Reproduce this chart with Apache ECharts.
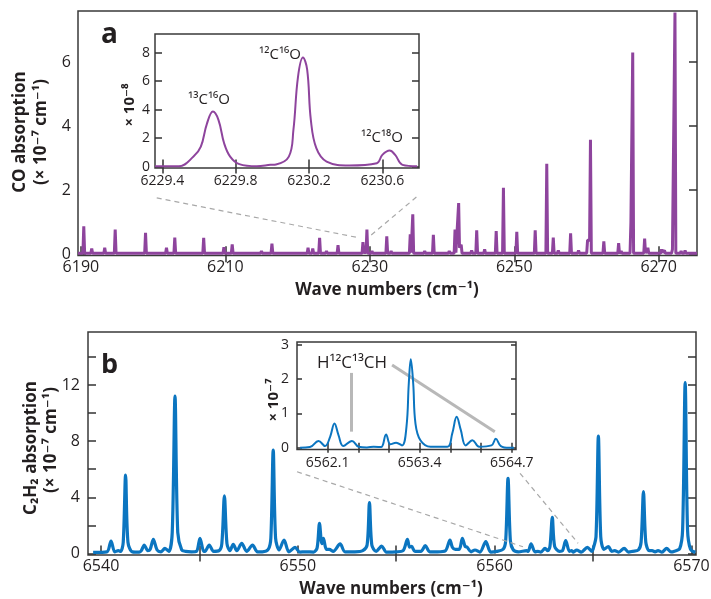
<!DOCTYPE html>
<html><head><meta charset="utf-8">
<script src="https://cdn.jsdelivr.net/npm/echarts@6/dist/echarts.min.js"></script>
<style>html,body{margin:0;padding:0;background:#fff}#c{width:711px;height:599px}</style>
</head><body><div id="c"></div>
<script>
// ---------- DATA ----------
// Panel a main: CO spectrum, wave number (cm^-1) vs absorption (x 10^-7 cm^-1)
const coMain = [
[6189.6,0.03],
[6190.28,0.03],[6190.4,0.87],[6190.52,0.03],
[6191.38,0.03],[6191.5,0.18],[6191.62,0.03],
[6192.18,0.03],[6192.3,0.08],[6192.42,0.03],
[6193.18,0.03],[6193.3,0.2],[6193.42,0.03],
[6193.88,0.03],[6194.0,0.07],[6194.12,0.03],
[6194.63,0.03],[6194.75,0.77],[6194.87,0.03],
[6195.38,0.03],[6195.5,0.06],[6195.62,0.03],
[6196.18,0.03],[6196.3,0.08],[6196.42,0.03],
[6197.08,0.03],[6197.2,0.06],[6197.32,0.03],
[6198.83,0.03],[6198.95,0.67],[6199.07,0.03],
[6199.88,0.03],[6200.0,0.06],[6200.12,0.03],
[6200.88,0.03],[6201.0,0.08],[6201.12,0.03],
[6201.73,0.03],[6201.85,0.2],[6201.97,0.03],
[6202.88,0.03],[6203.0,0.52],[6203.12,0.03],
[6203.88,0.03],[6204.0,0.07],[6204.12,0.03],
[6204.88,0.03],[6205.0,0.06],[6205.12,0.03],
[6205.88,0.03],[6206.0,0.07],[6206.12,0.03],
[6206.88,0.03],[6207.0,0.51],[6207.12,0.03],
[6207.98,0.03],[6208.1,0.08],[6208.22,0.03],
[6209.68,0.03],[6209.8,0.22],[6209.92,0.03],
[6210.83,0.03],[6210.95,0.31],[6211.07,0.03],
[6211.88,0.03],[6212.0,0.07],[6212.12,0.03],
[6212.88,0.03],[6213.0,0.08],[6213.12,0.03],
[6213.88,0.03],[6214.0,0.06],[6214.12,0.03],
[6214.88,0.03],[6215.0,0.1],[6215.12,0.03],
[6216.33,0.03],[6216.45,0.33],[6216.57,0.03],
[6217.38,0.03],[6217.5,0.07],[6217.62,0.03],
[6218.38,0.03],[6218.5,0.07],[6218.62,0.03],
[6219.38,0.03],[6219.5,0.06],[6219.62,0.03],
[6220.48,0.03],[6220.6,0.08],[6220.72,0.03],
[6221.33,0.03],[6221.45,0.2],[6221.57,0.03],
[6221.98,0.03],[6222.1,0.18],[6222.22,0.03],
[6222.93,0.03],[6223.05,0.51],[6223.17,0.03],
[6223.88,0.03],[6224.0,0.1],[6224.12,0.03],
[6225.48,0.03],[6225.6,0.28],[6225.72,0.03],
[6226.28,0.03],[6226.4,0.06],[6226.52,0.03],
[6226.98,0.03],[6227.1,0.08],[6227.22,0.03],
[6227.88,0.03],[6228.0,0.06],[6228.12,0.03],
[6228.93,0.03],[6229.05,0.38],[6229.17,0.05],
[6229.48,0.05],[6229.6,0.77],[6229.72,0.03],
[6230.18,0.03],[6230.3,0.1],[6230.42,0.03],
[6231.08,0.03],[6231.2,0.08],[6231.32,0.03],
[6232.23,0.03],[6232.35,0.56],[6232.47,0.03],
[6232.83,0.03],[6232.95,0.1],[6233.07,0.03],
[6233.88,0.03],[6234.0,0.06],[6234.12,0.03],
[6235.48,0.03],[6235.6,0.62],[6235.72,0.05],
[6235.83,0.05],[6235.95,1.25],[6236.07,0.03],
[6237.48,0.03],[6237.6,0.1],[6237.72,0.03],
[6238.68,0.03],[6238.8,0.61],[6238.92,0.03],
[6239.88,0.03],[6240.0,0.07],[6240.12,0.03],
[6240.88,0.03],[6241.0,0.1],[6241.12,0.03],
[6241.68,0.03],[6241.8,0.77],[6241.92,0.05],
[6242.18,0.05],[6242.3,1.6],[6242.42,0.2],[6242.65,0.3],[6242.77,0.03],
[6243.98,0.03],[6244.1,0.12],[6244.22,0.03],
[6244.68,0.03],[6244.8,0.75],[6244.92,0.03],
[6245.78,0.03],[6245.9,0.15],[6246.02,0.03],
[6246.68,0.03],[6246.8,0.07],[6246.92,0.03],
[6247.38,0.03],[6247.5,0.72],[6247.62,0.03],
[6248.38,0.03],[6248.5,2.08],[6248.62,0.03],
[6249.38,0.03],[6249.5,0.08],[6249.62,0.03],
[6250.23,0.03],[6250.35,0.7],[6250.47,0.03],
[6251.18,0.03],[6251.3,0.08],[6251.42,0.03],
[6251.98,0.03],[6252.1,0.06],[6252.22,0.03],
[6252.78,0.03],[6252.9,0.75],[6253.02,0.03],
[6253.58,0.03],[6253.7,0.08],[6253.82,0.03],
[6254.38,0.03],[6254.5,2.83],[6254.62,0.03],
[6255.28,0.03],[6255.4,0.52],[6255.52,0.03],
[6255.98,0.03],[6256.1,0.12],[6256.22,0.03],
[6256.88,0.03],[6257.0,0.07],[6257.12,0.03],
[6257.68,0.03],[6257.8,0.65],[6257.92,0.03],
[6258.78,0.03],[6258.9,0.12],[6259.02,0.03],
[6259.38,0.03],[6259.5,0.07],[6259.62,0.03],
[6260.03,0.03],[6260.15,0.44],[6260.3,0.44],[6260.43,0.44],[6260.55,3.58],[6260.67,0.03],
[6261.28,0.03],[6261.4,0.08],[6261.52,0.03],
[6262.28,0.03],[6262.4,0.4],[6262.52,0.03],
[6263.18,0.03],[6263.3,0.07],[6263.42,0.03],
[6264.33,0.03],[6264.45,0.35],[6264.57,0.03],
[6264.68,0.03],[6264.8,0.1],[6264.92,0.03],
[6265.38,0.03],[6265.5,0.07],[6265.62,0.03],
[6266.03,0.03],[6266.15,1.0],[6266.28,1.0],[6266.4,6.3],[6266.52,0.03],
[6267.08,0.03],[6267.2,0.08],[6267.32,0.03],
[6267.93,0.03],[6268.05,0.49],[6268.17,0.03],
[6268.38,0.03],[6268.5,0.2],[6268.62,0.03],
[6269.28,0.03],[6269.4,0.07],[6269.52,0.03],
[6270.28,0.03],[6270.4,0.15],[6270.52,0.05],[6270.8,0.12],[6270.92,0.03],
[6271.78,0.03],[6271.9,0.15],[6272.0,0.15],[6272.25,7.55],[6272.37,0.03],
[6272.98,0.03],[6273.1,0.1],[6273.22,0.03],
[6273.53,0.03],[6273.65,0.12],[6273.77,0.03],
[6274.38,0.03],[6274.5,0.06],[6274.62,0.03],
[6275.3,0.03]
];
// Panel a inset (x 10^-8)
const coInset = [
[6229.36,0.02],[6229.49,0.02],[6229.57,0.7],[6229.61,1.4],[6229.643,3.0],[6229.676,3.86],
[6229.706,3.28],[6229.737,1.64],[6229.77,0.7],[6229.82,0.17],[6229.915,0.02],[6229.99,0.12],
[6230.02,0.15],[6230.09,0.7],[6230.115,2.57],[6230.14,6.3],[6230.167,7.65],[6230.19,6.8],
[6230.21,3.28],[6230.24,1.29],[6230.296,0.35],[6230.42,0.08],[6230.57,0.24],[6230.6,0.82],
[6230.64,1.12],[6230.67,0.82],[6230.71,0.12],[6230.79,0.02]
];
// Panel b main: C2H2 spectrum (x 10^-7 cm^-1)
const c2h2Main = [
[6539.6,0.08],
[6540.3,0.12],[6540.51,0.89],[6540.7,0.12],[6540.88,0.2],[6541.0,0.15],
[6541.13,0.8],[6541.25,5.59],[6541.37,0.8],[6541.6,0.12],[6541.95,0.1],
[6542.05,0.2],[6542.2,0.6],[6542.38,0.2],[6542.5,0.3],[6542.66,1.0],[6542.85,0.25],[6543.05,0.12],
[6543.25,0.37],[6543.45,0.15],
[6543.62,1.5],[6543.76,11.2],[6543.9,1.5],[6544.1,0.25],[6544.3,0.15],[6544.6,0.12],[6544.85,0.15],
[6545.03,1.08],[6545.22,0.15],[6545.28,0.15],[6545.5,0.6],[6545.72,0.15],
[6546.0,0.2],[6546.14,0.7],[6546.27,4.1],[6546.4,0.7],[6546.55,0.2],
[6546.72,0.65],[6546.9,0.2],[6547.15,0.72],[6547.4,0.15],[6547.7,0.6],[6547.95,0.12],[6548.2,0.12],
[6548.5,0.3],[6548.63,1.1],[6548.75,7.37],[6548.87,1.1],[6549.05,0.25],
[6549.3,0.96],[6549.55,0.12],[6549.86,0.44],[6550.1,0.1],[6550.4,0.12],[6550.8,0.1],
[6550.98,0.4],[6551.1,2.15],[6551.22,0.7],[6551.3,1.08],[6551.45,0.3],[6551.6,0.3],[6551.8,0.15],
[6552.15,0.68],[6552.4,0.12],[6552.9,0.12],[6553.3,0.2],
[6553.52,0.6],[6553.64,3.62],[6553.76,0.6],[6553.98,0.15],
[6554.26,0.53],[6554.5,0.1],[6555.0,0.12],[6555.35,0.2],
[6555.57,1.0],[6555.68,0.45],[6555.78,0.5],[6555.95,0.15],
[6556.25,0.15],[6556.48,0.56],[6556.7,0.12],[6557.1,0.12],[6557.5,0.2],
[6557.73,0.96],[6557.85,0.45],[6558.0,0.3],[6558.2,0.3],[6558.36,1.08],[6558.5,0.5],[6558.6,0.45],[6558.8,0.12],
[6559.0,0.25],[6559.25,0.1],[6559.55,0.84],[6559.8,0.1],[6560.1,0.15],
[6560.43,0.3],[6560.56,0.9],[6560.68,5.35],[6560.8,0.9],[6560.95,0.25],
[6561.2,0.12],[6561.63,0.2],[6561.7,0.15],[6561.85,0.68],[6562.05,0.12],[6562.2,0.15],[6562.35,0.1],
[6562.56,0.37],[6562.7,0.2],[6562.81,0.5],[6562.93,2.57],[6563.05,0.5],[6563.3,0.15],
[6563.45,0.2],[6563.61,0.91],[6563.8,0.15],[6563.9,0.2],[6564.0,0.1],[6564.17,0.25],[6564.4,0.1],
[6564.71,0.44],[6564.95,0.15],
[6565.0,0.3],[6565.15,1.2],[6565.27,8.36],[6565.39,1.2],[6565.55,0.3],
[6565.78,0.49],[6565.95,0.15],[6566.1,0.2],[6566.3,0.1],[6566.58,0.37],[6566.8,0.1],[6567.0,0.15],
[6567.3,0.25],[6567.44,0.8],[6567.56,4.4],[6567.68,0.8],[6567.85,0.2],
[6568.0,0.2],[6568.15,0.12],[6568.3,0.2],[6568.5,0.1],[6568.74,0.37],[6568.95,0.12],[6569.1,0.15],
[6569.4,0.35],[6569.55,1.7],[6569.68,12.16],[6569.8,1.7],[6569.95,0.3],[6570.2,0.08]
];
// Panel b inset (x 10^-7)
const c2h2Inset = [
[6561.71,0.0],[6561.85,0.02],[6561.97,0.2],[6562.064,0.05],[6562.135,0.32],[6562.196,0.71],
[6562.253,0.37],[6562.32,0.05],[6562.443,0.2],[6562.537,0.03],[6562.655,0.01],[6562.75,0.03],
[6562.854,0.02],[6562.925,0.39],[6562.986,0.1],[6563.067,0.15],[6563.15,0.07],[6563.213,0.61],
[6563.246,1.88],[6563.274,2.58],[6563.308,1.88],[6563.34,0.71],[6563.41,0.22],[6563.553,0.03],
[6563.79,0.03],[6563.86,0.42],[6563.922,0.9],[6563.98,0.52],[6564.05,0.07],[6564.145,0.22],
[6564.24,0.03],[6564.414,0.07],[6564.475,0.26],[6564.546,0.05],[6564.664,0.0],[6564.73,0.0]
];
// Tick values and labels
const aMainXTicks = [6190, 6210, 6230, 6250, 6270];
const aMainXTopTicks = [6210, 6230, 6250, 6270];
const aMainYLabels = [0, 2, 4, 6];
const aMainYRightTicks = [0, 2, 4, 6];
const aInsetXTicks = [6229.4, 6229.8, 6230.2, 6230.6];
const aInsetYTicks = [0, 2, 4, 6, 8];
const bMainXTicks = [6540, 6545, 6550, 6555, 6560, 6565, 6570];
const bMainXLabels = [6540, 6550, 6560, 6570];
const bMainXTopTicks = [6545, 6555, 6565];
const bMainYTicks = [0, 2, 4, 6, 8, 10, 12, 14];
const bMainYLabels = [0, 4, 8, 12];
const bInsetXTicks = [6562.1, 6562.533, 6562.967, 6563.4, 6563.833, 6564.267, 6564.7];
const bInsetXLabels = [6562.1, 6563.4, 6564.7];
const bInsetYTicks = [0, 1, 2, 3];
// Zoom connectors (data coordinates in the main panels)
const aConnectors = [[[6200.5, 1.76], [6228.35, 0.52]], [[6230.2, 0.6], [6236.47, 1.79]]];
const bConnectors = [[[6549.96, 5.82], [6561.44, 0.48]], [[6561.29, 5.71], [6564.24, 0.73]]];
// Isotopologue marker lines in inset b (data coords)
const bMarkers = [[[6562.433, 2.18], [6562.433, 0.47]], [[6563.01, 2.41], [6564.461, 0.47]]];

// ---------- CHART ----------
const FONT = '"Open Sans", "DejaVu Sans", sans-serif';
const TXT = '#231f20';
const PURPLE = '#8e449d';
const BLUE = '#0b75c0';

function ax(g, pos, min, max, ticks, labels, len, fs, margin) {
  return {
    type: 'value', gridIndex: g, position: pos, min: min, max: max,
    axisLine: { show: false }, splitLine: { show: false },
    axisTick: { show: ticks.length > 0, inside: true, length: len,
      lineStyle: { color: '#333', width: 1.5 }, customValues: ticks },
    axisLabel: { show: !!labels, customValues: labels || [], fontSize: fs, fontFamily: FONT,
      color: TXT, margin: margin, formatter: function (v) { return String(v); } }
  };
}
function gridDef(l, t, w, h, bg) {
  return { left: l, top: t, width: w, height: h, show: true, borderColor: '#3a3a3a',
    borderWidth: 1.5, backgroundColor: bg, outerBoundsMode: 'none', containLabel: false };
}
function lines(pairs) {
  return pairs.map(function (p) { return [{ coord: p[0] }, { coord: p[1] }]; });
}
function txt(text, x, y, size, bold, rot, align) {
  return { type: 'text', x: x, y: y, rotation: rot || 0, z: 100,
    style: { text: text, fontSize: size, fontWeight: bold ? 'bold' : 'normal', fontFamily: FONT,
      fill: TXT, align: align || 'center', verticalAlign: 'middle' } };
}

const chart = echarts.init(document.getElementById('c'), null, { renderer: 'canvas' });
const R = Math.PI / 2;
chart.setOption({
  animation: false,
  backgroundColor: '#fff',
  grid: [
    gridDef(78, 11, 619, 244.5, 'transparent'),
    gridDef(155, 34, 264, 134, '#fff'),
    gridDef(88, 332, 608, 223, 'transparent'),
    gridDef(297, 342, 219, 107.5, '#fff')
  ],
  xAxis: [
    ax(0, 'bottom', 6189.6, 6275.3, aMainXTicks, aMainXTicks, 8, 16, 4),
    ax(0, 'top', 6189.6, 6275.3, aMainXTopTicks, null, 8),
    ax(1, 'bottom', 6229.36, 6230.8, aInsetXTicks, aInsetXTicks, 7, 14, 6),
    ax(1, 'top', 6229.36, 6230.8, aInsetXTicks, null, 7),
    ax(2, 'bottom', 6539.34, 6570.23, bMainXTicks, bMainXLabels, 8, 16, 3),
    ax(2, 'top', 6539.34, 6570.23, bMainXTopTicks, null, 8),
    ax(3, 'bottom', 6561.667, 6564.76, bInsetXTicks, bInsetXLabels, 5, 14, 7),
    ax(3, 'top', 6561.667, 6564.76, bInsetXTicks, null, 5)
  ],
  yAxis: [
    ax(0, 'left', -0.04, 7.6, [0], aMainYLabels, 8, 16, 7),
    ax(0, 'right', -0.04, 7.6, aMainYRightTicks, null, 8),
    ax(1, 'left', -0.1, 9.3, aInsetYTicks, aInsetYTicks, 7, 14, 5),
    ax(1, 'right', -0.1, 9.3, aInsetYTicks, null, 7),
    ax(2, 'left', -0.107, 15.77, bMainYTicks, bMainYLabels, 8, 16, 8),
    ax(2, 'right', -0.107, 15.77, bMainYTicks, null, 8),
    ax(3, 'left', -0.05, 3.08, bInsetYTicks, bInsetYTicks, 5, 14, 8),
    ax(3, 'right', -0.05, 3.08, bInsetYTicks, null, 5)
  ],
  series: [
    { type: 'line', xAxisIndex: 0, yAxisIndex: 0, data: coMain, showSymbol: false, smooth: false,
      lineStyle: { color: PURPLE, width: 3 }, z: 3,
      markLine: { silent: true, symbol: ['none', 'none'], label: { show: false },
        lineStyle: { color: '#a8a8a8', width: 1.2, type: [5, 4] }, data: lines(aConnectors) } },
    { type: 'line', xAxisIndex: 2, yAxisIndex: 2, data: coInset, showSymbol: false, smooth: 0.4,
      lineStyle: { color: PURPLE, width: 2 }, z: 5 },
    { type: 'line', xAxisIndex: 4, yAxisIndex: 4, data: c2h2Main, showSymbol: false, smooth: 0.3,
      lineStyle: { color: BLUE, width: 3.2 }, z: 3,
      markLine: { silent: true, symbol: ['none', 'none'], label: { show: false },
        lineStyle: { color: '#a8a8a8', width: 1.2, type: [5, 4] }, data: lines(bConnectors) } },
    { type: 'line', xAxisIndex: 6, yAxisIndex: 6, data: c2h2Inset, showSymbol: false, smooth: 0.4,
      lineStyle: { color: BLUE, width: 2 }, z: 5,
      markLine: { silent: true, symbol: ['none', 'none'], label: { show: false },
        lineStyle: { color: '#b8b8b8', width: 3, type: 'solid' }, data: lines(bMarkers) } }
  ],
  graphic: [
    txt('a', 101, 35, 28, true, 0, 'left'),
    txt('b', 101, 365, 27, true, 0, 'left'),
    txt('CO absorption', 20.5, 132, 17, true, R),
    txt('(× 10⁻⁷ cm⁻¹)', 41, 132, 17, true, R),
    txt('Wave numbers (cm⁻¹)', 387, 290, 17, true),
    txt('C₂H₂ absorption', 31, 448, 17, true, R),
    txt('(× 10⁻⁷ cm⁻¹)', 51, 440, 17, true, R),
    txt('Wave numbers (cm⁻¹)', 391, 589, 17, true),
    txt('× 10⁻⁸', 130, 105, 15, true, R),
    txt('× 10⁻⁷', 273.5, 400, 15, true, R),
    txt('¹³C¹⁶O', 209, 100, 15, false),
    txt('¹²C¹⁶O', 280, 55, 15, false),
    txt('¹²C¹⁸O', 382, 138, 15, false),
    txt('H¹²C¹³CH', 352, 363, 17, false)
  ]
});
</script>
</body></html>
